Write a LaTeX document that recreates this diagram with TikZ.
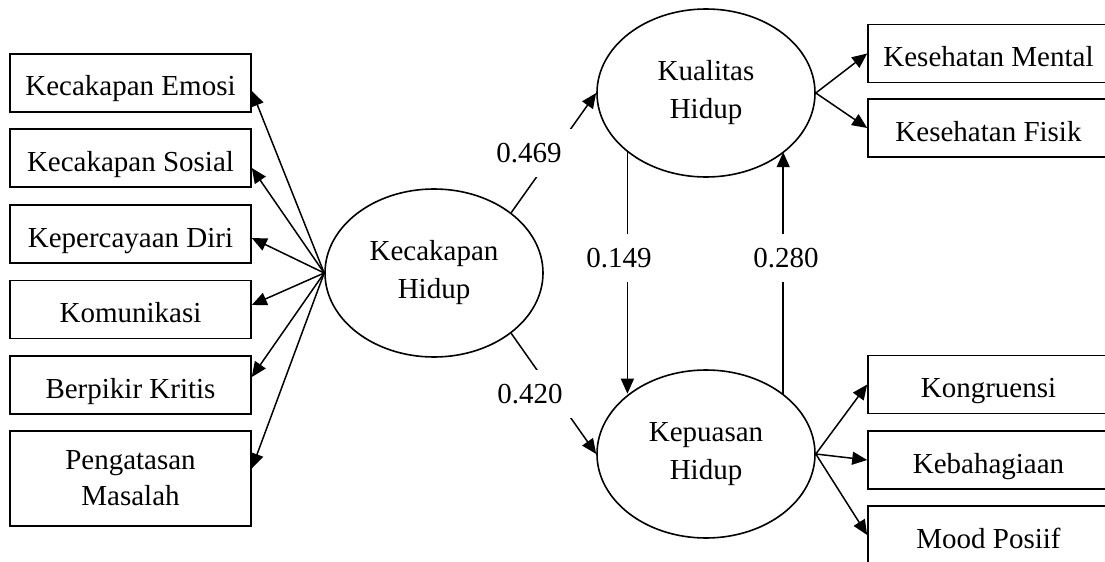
\documentclass[tikz,border=0pt]{standalone}
\usepackage{fontspec}
\setmainfont{Liberation Serif}
\usetikzlibrary{calc,arrows.meta,shapes.geometric}

\tikzset{
  kotak/.style={draw, line width=0.8pt, minimum width=120.5pt, minimum height=29pt, inner sep=0pt, align=center, font=\fontsize{14.5}{18}\selectfont},
  indikator/.style={kotak, text height=13pt, text depth=0pt},
  laten/.style={draw, ellipse, line width=0.8pt, minimum width=109pt, minimum height=84pt, inner sep=0pt, align=center, font=\fontsize{14.5}{19}\selectfont},
  koef/.style={fill=white, inner sep=0pt, minimum height=24pt, font=\fontsize{14.5}{16}\selectfont},
  panah/.style={line width=0.75pt, -{Triangle[length=7.5pt,width=6.5pt]}}
}

\begin{document}
\begin{tikzpicture}[x=0.5pt, y=-0.5pt]
  %%%%% START %%%%%
  \useasboundingbox (0,0) rectangle (1105,562);
  \clip (0,0) rectangle (1105,562);

  % variabel laten
  \node[laten] (kh) at (434, 273) {Kecakapan\\Hidup};
  \node[laten] (kq) at (706, 93) {Kualitas\\Hidup};
  \node[laten] (kp) at (706, 454) {Kepuasan\\Hidup};

  % indikator kecakapan hidup
  \node[indikator] (e1) at (130.5, 83) {Kecakapan Emosi};
  \node[indikator] (e2) at (130.5, 158) {Kecakapan Sosial};
  \node[indikator] (e3) at (130.5, 234) {Kepercayaan Diri};
  \node[indikator] (e4) at (130.5, 309.5) {Komunikasi};
  \node[indikator] (e5) at (130.5, 385) {Berpikir Kritis};
  \node[kotak, minimum height=47.5pt] (e6) at (130.5, 478.5) {Pengatasan\\Masalah};

  % indikator kualitas dan kepuasan hidup
  \node[indikator] (r1) at (988.5, 53.5) {Kesehatan Mental};
  \node[indikator] (r2) at (988.5, 128) {Kesehatan Fisik};
  \node[indikator] (r3) at (988.5, 384.5) {Kongruensi};
  \node[indikator] (r4) at (988.5, 460) {Kebahagiaan};
  \node[indikator] (r5) at (988.5, 535) {Mood Posiif};

  \draw[panah] (kh.west) -- ($(e1.east)+(0,8)$);
  \draw[panah] (kh.west) -- ($(e2.east)+(0,10)$);
  \draw[panah] (kh.west) -- ($(e3.east)+(0,4)$);
  \draw[panah] (kh.west) -- ($(e4.east)+(0,-4.5)$);
  \draw[panah] (kh.west) -- ($(e5.east)+(0,-8)$);
  \draw[panah] (kh.west) -- ($(e6.east)+(0,-10)$);

  \draw[panah] (kq.east) -- (r1.west);
  \draw[panah] (kq.east) -- (r2.west);
  \draw[panah] (kp.east) -- (r3.west);
  \draw[panah] (kp.east) -- (r4.west);
  \draw[panah] (kp.east) -- (r5.west);

  % jalur antar laten
  \draw[panah] (kh.38) -- (kq.west);
  \draw[panah] (kh.-38) -- (kp.west);
  \draw[panah] (kq.217) -- (kq.217 |- kp.142);
  \draw[panah] (kp.38) -- (kp.38 |- kq.-37);

  \node[koef, minimum width=44pt] (b1) at (529, 153) {0.469};
  \node[koef, minimum width=44pt] (b2) at (530, 394) {0.420};
  \node[koef] (b3) at (619, 258) {0.149};
  \node[koef] (b4) at (786, 258) {0.280};
  %%%%% END %%%%%
\end{tikzpicture}
\end{document}
